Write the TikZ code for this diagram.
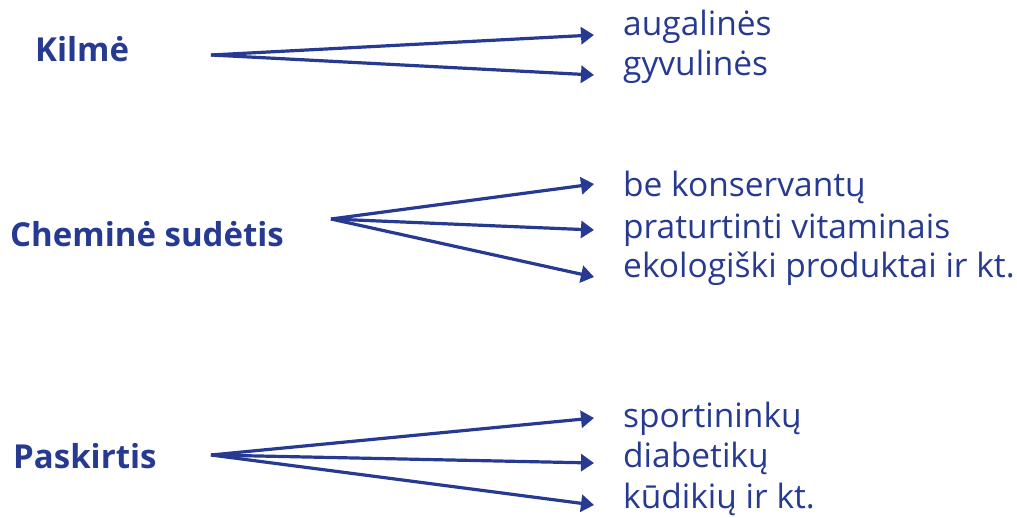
\documentclass[tikz,border=0pt]{standalone}
\usepackage{fontspec}
\setmainfont{Open Sans}
\usetikzlibrary{arrows.meta}
\definecolor{navy}{RGB}{38,58,145}
\begin{document}
\begin{tikzpicture}[x=1pt,y=-1pt,
  cat/.style={font=\fontsize{33}{35}\selectfont\bfseries, text=navy, inner sep=0pt, anchor=base west},
  item/.style={font=\fontsize{33.5}{35}\selectfont, text=navy, anchor=base west, inner sep=0pt},
  arr/.style={draw=navy, line width=3.2pt, -{Triangle[length=13pt,width=17pt]}}]
\useasboundingbox (0,0) rectangle (1017,518);
% categories
\node[cat] (kilme) at (35,62) {Kilmė};
\node[cat] (chem) at (10,247) {Cheminė sudėtis};
\node[cat] (pask) at (13,468) {Paskirtis};
% items
\node[item] (aug) at (623,36) {augalinės};
\node[item] (gyv) at (623,76) {gyvulinės};
\node[item] (bek) at (623,197) {be konservantų};
\node[item] (prat) at (623,239) {praturtinti vitaminais};
\node[item] (eko) at (623,278) {ekologiški produktai ir kt.};
\node[item] (spo) at (623,427) {sportininkų};
\node[item] (dia) at (623,467) {diabetikų};
\node[item] (kud) at (623,508) {kūdikių ir kt.};
% arrow origins and ends
\coordinate (s1) at (211,55);
\coordinate (s2) at (331,219);
\coordinate (s3) at (211,455);
\coordinate (e1) at (594,35);
\coordinate (e2) at (594,75);
\coordinate (e3) at (594,184);
\coordinate (e4) at (594,230);
\coordinate (e5) at (594,277);
\coordinate (e6) at (594,418);
\coordinate (e7) at (594,463);
\coordinate (e8) at (594,505);
\draw[arr] (s1) -- (e1);
\draw[arr] (s1) -- (e2);
\draw[arr] (s2) -- (e3);
\draw[arr] (s2) -- (e4);
\draw[arr] (s2) -- (e5);
\draw[arr] (s3) -- (e6);
\draw[arr] (s3) -- (e7);
\draw[arr] (s3) -- (e8);
\end{tikzpicture}
\end{document}
